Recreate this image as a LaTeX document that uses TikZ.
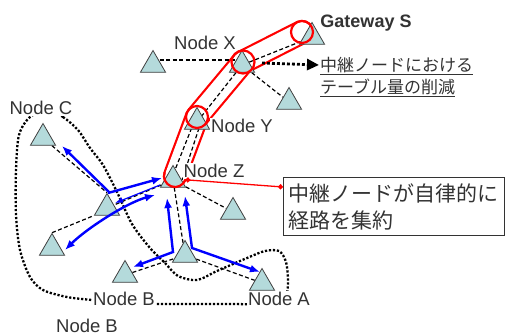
\documentclass[tikz,border=0pt]{standalone}
\usepackage{fontspec}
\setmainfont{Liberation Sans}
\newfontfamily\jpfont{Noto Sans CJK JP}
\usetikzlibrary{arrows.meta,calc,shapes.geometric,backgrounds}
\definecolor{trifill}{HTML}{B4DADB}
\definecolor{triedge}{HTML}{404040}
\definecolor{linkblue}{HTML}{0000FF}
\definecolor{tubered}{HTML}{FF0000}
\definecolor{txtgray}{HTML}{333333}
\tikzset{
  sta/.style={regular polygon, regular polygon sides=3, draw=triedge, fill=trifill,
    line width=0.8pt, minimum size=29pt, inner sep=0pt},
  lbl/.style={font=\fontsize{18.5}{22}\selectfont, text=txtgray, fill=white, inner sep=1pt},
  link/.style={draw=black, line width=1.2pt, dash pattern=on 4pt off 2.5pt},
  route/.style={-{Latex[length=10pt,width=8pt]}, draw=linkblue, line width=2.4pt},
  routethin/.style={-{Latex[length=8pt,width=6pt]}, draw=linkblue, line width=1.2pt},
  route2/.style={route, {Latex[length=10pt,width=8pt]}-{Latex[length=10pt,width=8pt]}},
  tube/.style={draw=tubered, line width=2.2pt, double=white, double distance=20pt,
    line cap=round, line join=round},
  ring/.style={draw=tubered, line width=2.2pt},
  callout/.style={draw=tubered, line width=1.3pt, {Circle[length=5pt]}-{Circle[length=5pt]}},
  cluster/.style={draw=black, line width=2.3pt, dash pattern=on 2.2pt off 1.8pt},
  pointer/.style={-{Triangle[length=12pt,width=11pt]}, draw=black, line width=2.8pt,
    dash pattern=on 2.8pt off 2.2pt},
  tab/.style={font=\jpfont\fontsize{17}{22}\selectfont, text=txtgray, align=left,
    inner sep=0pt, anchor=north west},
  notebox/.style={draw=black!80, line width=1pt, fill=white, anchor=north west,
    font=\jpfont\fontsize{21}{27}\selectfont, text=txtgray, align=left,
    text width=211pt, inner xsep=5pt, minimum height=58pt},
}

\begin{document}
\begin{tikzpicture}[x=1pt, y=-1pt]
\useasboundingbox (0,0) rectangle (505,335);

\node[sta] (n_S) at (312,37) {};
\node[sta] (n_X) at (242,65) {};
\node[sta] (n_L) at (153,65) {};
\node[sta] (n_R1) at (289,102) {};
\node[sta] (n_Y) at (197,122) {};
\node[sta] (n_Z) at (173,180) {};
\node[sta] (n_C) at (43,138) {};
\node[sta] (n_M) at (107,208) {};
\node[sta] (n_LL) at (52,248) {};
\node[sta] (n_R2) at (233,212) {};
\node[sta] (n_BC) at (185,255) {};
\node[sta] (n_B) at (125,275) {};
\node[sta] (n_A) at (262,283) {};

\node[lbl, font=\bfseries\fontsize{18}{22}\selectfont] (l_S) at (366,23) {Gateway S};
\node[lbl] (l_X) at (205,43) {Node X};
\node[lbl] (l_Y) at (242,126) {Node Y};
\node[lbl] (l_Z) at (214,171) {Node Z};
\node[lbl] (l_C) at (41,108) {Node C};
\node[lbl] (l_B) at (124,299) {Node B};
\node[lbl] (l_B2) at (87,326) {Node B};
\node[lbl] (l_A) at (279,299) {Node A};

\node[tab] (t_tab) at (320,57) {\underline{中継ノードにおける}\\\underline{テーブル量の削減}};
\node[notebox] (t_box) at (283,177) {中継ノードが自律的に\\経路を集約};

\coordinate (j_S) at ($(n_S)+(-10,-5)$);
\coordinate (j_X) at ($(n_X)+(1,-3)$);
\coordinate (j_Y) at ($(n_Y)+(0,-5)$);
\coordinate (j_Z) at ($(n_Z)+(2,-4)$);

\begin{scope}[on background layer]
\draw[cluster] plot[smooth cycle, tension=0.5] coordinates {
  (48,110) (63,117) (78,130) (90,148) (103,165) (117,192) (132,224) (150,248)
  (165,263) (178,276) (197,280) (217,271) (247,258) (265,251) (279,251) (286,262)
  (288,283) (284,300) (262,304) (230,304) (195,304) (160,304) (125,303) (92,300)
  (67,297) (43,290) (30,277) (20,250) (16,215) (16,170) (19,135) (30,117)};
\draw[tube] (j_S) -- (j_X) -- (j_Y) -- (j_Z);
\draw[link] ($(n_L)+(0,-5)$) -- ($(n_X)+(0,-5)$);
\draw[link] (n_X) -- (n_S);
\draw[link] (n_X) -- (n_R1);
\draw[link] (n_X) -- (n_Y);
\draw[link] ($(n_Y)+(-3,0)$) -- ($(n_Z)+(-2,0)$);
\draw[link] ($(n_Y)+(4,0)$) -- ($(n_Z)+(9,0)$);
\draw[link] (n_Z) -- (n_R2);
\draw[link] (n_Z) -- (n_M);
\draw[link] (n_Z) -- (n_BC);
\draw[link] (n_C) -- (n_M.north);
\draw[link] (n_LL.north) -- (n_M.corner 2);
\draw[link] (n_B) -- (n_BC);
\draw[link] (n_BC) -- (n_A);
\end{scope}

\draw[ring] (j_S) circle[radius=11];
\draw[ring] (j_X) circle[radius=11.5];
\draw[ring] (j_Y) circle[radius=11];
\draw[ring] ($(j_Z)+(200:11)$) arc[start angle=200, end angle=20, radius=11];
\draw[callout] ($(j_Z)+(20:11)$) -- ($(t_box.north west)+(0,10)$);

\draw[pointer] ($(n_X)+(20,-2)$) -- ($(t_tab.north west)+(-1,8)$);

\draw[route] ($(n_M)+(3,-15)$) -- ($(n_C)+(19,8)$);
\draw[route] ($(n_M)+(1,-15)$) -- ($(n_Z)+(-11,-2)$);
\draw[routethin] ($(n_Z)+(-13,5)$) -- ($(n_M)+(8,-5)$);
\draw[route2] ($(n_LL)+(13,2)$) .. controls ($(n_LL)+(34,-19)$) and ($(n_Z)+(-47,23)$) .. ($(n_Z)+(-18,15)$);
\coordinate (k_BL) at ($(n_BC)+(-12,-3)$);
\coordinate (k_BR) at ($(n_BC)+(7,-7)$);
\draw[route2] ($(n_B)+(8,-8)$) -- (k_BL) -- ($(n_Z)+(-6,18)$);
\draw[route2] ($(n_Z)+(12,16)$) -- (k_BR) -- ($(n_A)+(-2,-11)$);

\end{tikzpicture}
\end{document}
